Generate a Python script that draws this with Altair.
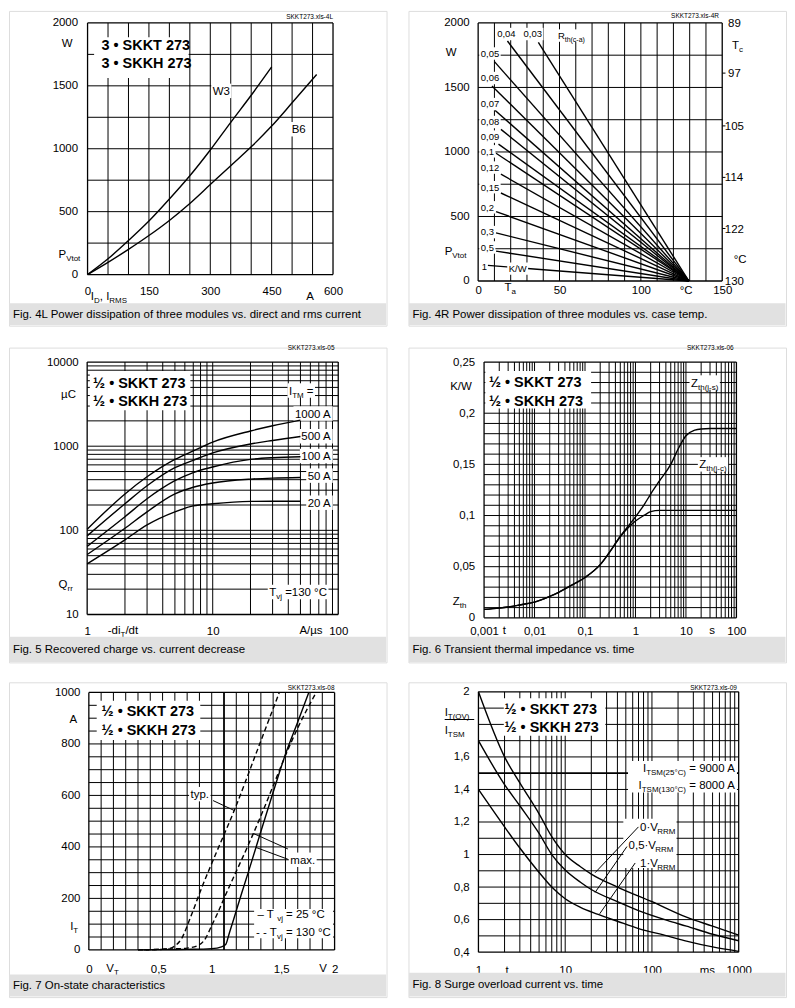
import math
import re
import altair as alt
import pandas as pd

FONT = "Liberation Sans"
W, H = 379, 316
KX = W / 383.0
TS = 11.5
SUBS = 8.0
INK = "black"
GRID_C = "#000000"
CAP_FILL = "#e1e1e1"
LABEL_EXPR = "replace(toString(datum.value), '.', ',')"

# ---------------- Fig. 4L ----------------
F4L_XGRID = list(range(0, 601, 50))
F4L_YGRID = list(range(0, 2001, 250))
F4L_XTICKS = [0, 150, 300, 450, 600]
F4L_YTICKS = [0, 500, 1000, 1500, 2000]
W3_I = [0, 50, 100, 150, 200, 250, 300, 350, 400, 450]
W3_P = [0, 125, 270, 425, 600, 785, 990, 1210, 1425, 1650]
B6_I = [0, 50, 100, 150, 200, 250, 300, 350, 400, 450, 500, 560]
B6_P = [0, 97, 200, 310, 430, 565, 715, 865, 1015, 1180, 1365, 1590]

# ---------------- Fig. 4R ----------------
F4R_XGRID = list(range(0, 151, 10))
F4R_YGRID = list(range(0, 2001, 250))
F4R_XTICKS = [0, 50, 100, 150]
F4R_YTICKS = [0, 500, 1000, 1500, 2000]
RTH = ["0,03", "0,04", "0,05", "0,06", "0,07", "0,08", "0,09", "0,1", "0,12", "0,15", "0,2", "0,3", "0,5", "1"]
RTH_TA0 = [37, 18, 10, 8.5, 10.5, 14, 12.5, 11, 14, 14, 11, 11, 11, 6]
RTH_P0 = [1850, 1860, 1700, 1512, 1321, 1175, 1061, 990, 828, 682, 538, 373, 232, 121]
RTH_TA1 = 129.5
RTH_P1 = 0
RTH_LX = [27.9, 11.7, 1.6, 1.6, 1.6, 1.6, 1.6, 1.6, 1.6, 1.6, 1.6, 1.6, 1.6, 2.2]
RTH_LY = [1914, 1914, 1763, 1573, 1371, 1232, 1119, 1005, 879, 727, 571, 379, 260, 109]
TC_LABELS = ["89", "97", "105", "114", "122", "130"]
TC_POS = [2000, 1611, 1202, 803, 407, 0]
TC_TICKS = [1611, 1202, 803, 407]

# ---------------- Fig. 5 ----------------
F5_XGRID = [m * 10 ** d for d in range(0, 2) for m in range(1, 10)] + [100]
F5_YGRID = [m * 10 ** d for d in range(1, 4) for m in range(1, 10)] + [10000]
F5_XTICKS = [1, 10, 100]
F5_YTICKS = [10, 100, 1000, 10000]
F5_X = [1, 2, 3, 5, 7, 10, 20, 30, 50]
Q_1000 = [103, 271, 433, 696, 880, 1120, 1517, 1750, 2040]
Q_500 = [86, 207, 339, 556, 680, 832, 1063, 1170, 1303]
Q_100 = [64.5, 145, 237, 389, 486, 566, 697, 730, 748]
Q_50 = [51.6, 106, 166, 271, 325, 365, 406, 418, 425]
Q_20 = [40, 77, 116, 166, 195, 207, 221, 222, 222]
ITM_LABELS = ["1000 A", "500 A", "100 A", "50 A", "20 A"]
ITM_Y = [2450, 1310, 764, 447, 213]

# ---------------- Fig. 6 ----------------
F6_XGRID = [m * 10.0 ** d for d in range(-3, 2) for m in range(1, 10)] + [100]
F6_YGRID = [round(i * 0.01, 2) for i in range(26)]
F6_XTICKS = [0.001, 0.01, 0.1, 1, 10, 100]
F6_YTICKS = [0, 0.05, 0.1, 0.15, 0.2, 0.25]
ZJS_T = [0.001, 0.002, 0.003, 0.005, 0.01, 0.02, 0.03, 0.05, 0.1, 0.2, 0.3, 0.5, 0.7, 1, 1.5, 2, 3, 5, 7, 10, 15, 20, 30, 50, 100]
ZJS = [0.0083, 0.0095, 0.0106, 0.0125, 0.0154, 0.021, 0.025, 0.031, 0.0394, 0.052, 0.0635, 0.0795, 0.089, 0.0987, 0.111, 0.121, 0.134, 0.150, 0.165, 0.178, 0.1835, 0.1846, 0.185, 0.185, 0.185]
ZJC_T = [0.001, 0.002, 0.003, 0.005, 0.01, 0.02, 0.03, 0.05, 0.1, 0.2, 0.3, 0.5, 0.7, 1, 1.5, 2, 3, 5, 10, 100]
ZJC = [0.0083, 0.0095, 0.0106, 0.0125, 0.0154, 0.021, 0.025, 0.031, 0.0394, 0.052, 0.0635, 0.0795, 0.0875, 0.0946, 0.1003, 0.1038, 0.105, 0.105, 0.105, 0.105]

# ---------------- Fig. 7 ----------------
F7_XGRID = [round(i * 0.1, 1) for i in range(21)]
F7_YGRID = list(range(0, 1001, 50))
F7_XTICKS = [0, 0.5, 1, 1.5, 2]
F7_YTICKS = [0, 200, 400, 600, 800, 1000]
MAX25_V = [0.4, 0.6, 0.8, 1.0, 1.08, 1.115, 1.14, 1.18, 1.25, 1.3, 1.4, 1.5, 1.6, 1.7, 1.79]
MAX25_I = [0, 1, 2, 5, 12, 22, 60, 121, 230, 305, 460, 612, 760, 885, 1000]
MAX130_V = [0.45, 0.6, 0.7, 0.8, 0.9, 0.95, 1.0, 1.05, 1.1, 1.2, 1.3, 1.4, 1.5, 1.6, 1.7, 1.85]
MAX130_I = [0, 2, 4, 7, 20, 45, 95, 145, 200, 305, 410, 520, 637, 755, 862, 1000]
TYP130_V = [0.4, 0.55, 0.62, 0.66, 0.7, 0.756, 0.823, 0.924, 1.036, 1.183, 1.357, 1.55]
TYP130_I = [0, 2, 4, 6, 15, 45, 121, 248, 376, 541, 758, 1000]

# ---------------- Fig. 8 ----------------
F8_XGRID = [m * 10 ** d for d in range(0, 3) for m in range(1, 10)] + [1000]
F8_YGRID = [round(0.4 + i * 0.1, 1) for i in range(17)]
F8_XTICKS = [1, 10, 100, 1000]
F8_YTICKS = [0.4, 0.6, 0.8, 1, 1.2, 1.4, 1.6, 2]
V0_T = [1, 2, 3, 5, 7, 10, 15, 20, 40, 100, 250, 500, 1000]
V0_R = [2.0, 1.6, 1.44, 1.25, 1.11, 1.0, 0.925, 0.88, 0.80, 0.71, 0.615, 0.56, 0.505]
V05_T = [1, 2, 3, 5, 7, 10, 15, 20, 40, 70, 150, 250, 500, 1000]
V05_R = [1.7, 1.43, 1.30, 1.13, 1.0, 0.905, 0.83, 0.785, 0.71, 0.655, 0.595, 0.56, 0.51, 0.47]
V1_T = [1, 2, 3, 5, 7, 10, 15, 24, 40, 70, 150, 250, 500, 1000]
V1_R = [1.4, 1.17, 1.04, 0.89, 0.80, 0.728, 0.675, 0.632, 0.59, 0.545, 0.50, 0.468, 0.432, 0.405]

# ---------------- helpers ----------------
AW = {' ': 278, '(': 333, ')': 333, ',': 278, '-': 333, '.': 278, '/': 278, '=': 584,
      'A': 667, 'B': 667, 'C': 722, 'D': 722, 'E': 667, 'F': 611, 'H': 722, 'I': 278, 'K': 667,
      'L': 556, 'M': 833, 'O': 778, 'P': 667, 'Q': 778, 'R': 722, 'S': 667, 'T': 611, 'V': 667,
      'W': 944, 'Z': 611, 'a': 556, 'c': 500, 'd': 556, 'e': 556, 'f': 278, 'g': 556, 'h': 556,
      'i': 222, 'j': 222, 'l': 222, 'm': 833, 'n': 556, 'o': 556, 'p': 556, 'r': 333, 's': 500,
      't': 278, 'u': 556, 'v': 500, 'w': 722, 'x': 500, 'y': 500, '°': 400, 'µ': 556, '·': 278,
      '•': 350, '½': 834, '–': 556}


def tw(s, size):
    return sum(AW.get(c, 556) for c in s) * size / 1000.0


def parse(s):
    out = []
    for part in re.split(r'(_\{[^}]*\})', s):
        if not part:
            continue
        if part.startswith('_{'):
            out.append((part[2:-1], True))
        else:
            out.append((part, False))
    return out


class Panel:
    def __init__(self, xd, xr, yd, yr, ref_h, xlog=False, ylog=False):
        ky = H / float(ref_h)
        self.ky = ky
        self.xd, self.yd = xd, yd
        self.xr = [xr[0] * KX, xr[1] * KX]
        self.yr = [yr[0] * ky, yr[1] * ky]
        self.xlog, self.ylog = xlog, ylog
        self.texts, self.bolds, self.boxes, self.top_boxes, self.rules = [], [], [], [], []

    @staticmethod
    def _f(v, d, r, lg):
        if lg:
            t = (math.log10(v) - math.log10(d[0])) / (math.log10(d[1]) - math.log10(d[0]))
        else:
            t = (v - d[0]) / float(d[1] - d[0])
        return r[0] + t * (r[1] - r[0])

    @staticmethod
    def _i(p, d, r, lg):
        t = (p - r[0]) / (r[1] - r[0])
        if lg:
            return 10 ** (math.log10(d[0]) + t * (math.log10(d[1]) - math.log10(d[0])))
        return d[0] + t * (d[1] - d[0])

    def px(self, v):
        return self._f(v, self.xd, self.xr, self.xlog)

    def py(self, v):
        return self._f(v, self.yd, self.yr, self.ylog)

    def dx(self, p):
        return self._i(p, self.xd, self.xr, self.xlog)

    def dy(self, p):
        return self._i(p, self.yd, self.yr, self.ylog)

    def label(self, x, y, s, align='left', size=TS, sub=SUBS, bold=False, box=False, top=False):
        segs = parse(s)
        k = 1.05 if bold else 1.0
        widths = [tw(t, sub if isub else size) * k for t, isub in segs]
        total = sum(widths)
        x0 = self.px(x) - {'left': 0.0, 'center': total / 2.0, 'right': total}[align]
        yc = self.py(y)
        yb = yc + 0.358 * size
        acc = x0
        target = self.bolds if bold else self.texts
        for (t, isub), w in zip(segs, widths):
            fs = sub if isub else size
            lead = len(t) - len(t.lstrip(' '))
            txt = t.strip()
            if txt:
                target.append({'x': self.dx(acc + tw(' ' * lead, fs) * k),
                               'y': self.dy(yb + (3.0 if isub else 0.0)),
                               't': txt, 's': fs})
            acc += w
        if box:
            b = {'x1': self.dx(x0 - 1.5), 'x2': self.dx(x0 + total + 1.5),
                 'y1': self.dy(yc + 0.5 * size + 1.5), 'y2': self.dy(yc - 0.5 * size - 1.5)}
            (self.top_boxes if top else self.boxes).append(b)

    def box(self, x1, x2, y1, y2):
        self.boxes.append({'x1': x1, 'x2': x2, 'y1': y1, 'y2': y2})

    def rule(self, x1, y1, x2, y2):
        self.rules.append({'x1': x1, 'y1': y1, 'x2': x2, 'y2': y2})


def curves_df(series):
    rows = []
    for sid, (xs, ys) in enumerate(series):
        for k, (a, b) in enumerate(zip(xs, ys)):
            rows.append({'x': a, 'y': b, 'id': sid, 'k': k})
    return pd.DataFrame(rows)


def build(p, xgrid, ygrid, xticks, yticks, xpad, ypad, solid, dashed, caption, cap_top_ref,
          interp='monotone', thick_x=(), thick_y=(), xalign=None):
    if p.xlog:
        sx = alt.Scale(type='log', domain=p.xd, range=p.xr, nice=False)
    else:
        sx = alt.Scale(type='linear', domain=p.xd, range=p.xr, nice=False, zero=False)
    if p.ylog:
        sy = alt.Scale(type='log', domain=p.yd, range=p.yr, nice=False)
    else:
        sy = alt.Scale(type='linear', domain=p.yd, range=p.yr, nice=False, zero=False)
    common = dict(title=None, grid=False, ticks=False, tickSize=0, domain=False, labelFont=FONT,
                  labelFontSize=TS, labelColor=INK, labelExpr=LABEL_EXPR, labelFlush=False,
                  labelOverlap=False, labelBound=False)
    xkw = dict(common)
    if xalign is not None:
        xkw['labelAlign'] = xalign
    ax = alt.Axis(values=xticks, orient='bottom', offset=-(H - p.yr[0]), labelPadding=xpad, **xkw)
    ay = alt.Axis(values=yticks, orient='left', offset=-p.xr[0], labelPadding=ypad, **common)

    def X(f):
        return alt.X(f, type='quantitative', scale=sx, axis=ax)

    def Y(f):
        return alt.Y(f, type='quantitative', scale=sy, axis=ay)

    def wid(v, g, thick):
        if v == g[0] or v == g[-1]:
            return 1.3
        if v in thick:
            return 1.8
        return 1.0

    vg = pd.DataFrame({'v': xgrid, 'lo': p.yd[0], 'hi': p.yd[1],
                       'w': [wid(v, xgrid, thick_x) for v in xgrid]})
    hg = pd.DataFrame({'v': ygrid, 'lo': p.xd[0], 'hi': p.xd[1],
                       'w': [wid(v, ygrid, thick_y) for v in ygrid]})
    layers = [
        alt.Chart(vg).mark_rule(color=GRID_C).encode(
            x=X('v'), y=Y('lo'), y2=alt.Y2('hi'), strokeWidth=alt.StrokeWidth('w:Q', scale=None)),
        alt.Chart(hg).mark_rule(color=GRID_C).encode(
            y=Y('v'), x=X('lo'), x2=alt.X2('hi'), strokeWidth=alt.StrokeWidth('w:Q', scale=None)),
    ]
    if p.boxes:
        layers.append(alt.Chart(pd.DataFrame(p.boxes)).mark_rect(fill='white').encode(
            x=X('x1'), x2=alt.X2('x2'), y=Y('y1'), y2=alt.Y2('y2')))
    if solid:
        layers.append(alt.Chart(curves_df(solid)).mark_line(
            color=INK, strokeWidth=1.4, interpolate=interp).encode(
            x=X('x'), y=Y('y'), detail=alt.Detail('id:N'), order=alt.Order('k:Q')))
    if dashed:
        layers.append(alt.Chart(curves_df(dashed)).mark_line(
            color=INK, strokeWidth=1.4, interpolate=interp, strokeDash=[5, 3]).encode(
            x=X('x'), y=Y('y'), detail=alt.Detail('id:N'), order=alt.Order('k:Q')))
    if p.rules:
        layers.append(alt.Chart(pd.DataFrame(p.rules)).mark_rule(color=INK, strokeWidth=1.0).encode(
            x=X('x1'), y=Y('y1'), x2=alt.X2('x2'), y2=alt.Y2('y2')))
    if p.top_boxes:
        layers.append(alt.Chart(pd.DataFrame(p.top_boxes)).mark_rect(fill='white').encode(
            x=X('x1'), x2=alt.X2('x2'), y=Y('y1'), y2=alt.Y2('y2')))
    if p.texts:
        layers.append(alt.Chart(pd.DataFrame(p.texts)).mark_text(
            align='left', baseline='alphabetic', font=FONT, color=INK).encode(
            x=X('x'), y=Y('y'), text='t:N', size=alt.Size('s:Q', scale=None)))
    if p.bolds:
        layers.append(alt.Chart(pd.DataFrame(p.bolds)).mark_text(
            align='left', baseline='alphabetic', font=FONT, color=INK, fontWeight='bold').encode(
            x=X('x'), y=Y('y'), text='t:N', size=alt.Size('s:Q', scale=None)))
    cap_top = cap_top_ref * p.ky
    capdf = pd.DataFrame({'c': [caption]})
    layers.append(alt.Chart(capdf).mark_rect(fill=CAP_FILL).encode(
        x=alt.value(0.5), x2=alt.value(W - 0.5), y=alt.value(cap_top), y2=alt.value(H - 0.5)))
    layers.append(alt.Chart(capdf).mark_text(
        align='left', baseline='middle', font=FONT, fontSize=TS, color=INK).encode(
        x=alt.value(4), y=alt.value((cap_top + H) / 2.0 + 0.5), text='c:N'))
    return alt.layer(*layers).properties(width=W, height=H)


# ================= Fig. 4L =================
p1 = Panel([0, 600], [79.7, 328.7], [0, 2000], [269.7, 12.3], 322)
p1.box(16, 247, 1562, 1886)
p1.label(34, 1826, "3 • SKKT 273", size=14.5, bold=True)
p1.label(34, 1684, "3 • SKKH 273", size=14.5, bold=True)
p1.label(327, 1460, "W3", align='center', box=True)
p1.label(516, 1155, "B6", align='center', box=True)
p1.label(-50, 1843, "W", align='center')
p1.label(-71, 163, "P_{Vtot}")
p1.label(8, -170, "I_{D}, I_{RMS}")
p1.label(544, -170, "A", align='center')
p1.label(600, 2047, "SKKT273.xls-4L", align='right', size=6.5)
c1 = build(p1, F4L_XGRID, F4L_YGRID, F4L_XTICKS, F4L_YTICKS, 11.5, 10,
           [(W3_I, W3_P), (B6_I, B6_P)], [],
           "Fig. 4L Power dissipation of three modules vs. direct and rms current", 299)

# ================= Fig. 4R =================
p2 = Panel([0, 150], [70.7, 318.3], [0, 2000], [276.3, 12.3], 322)
for name, lx, ly in zip(RTH, RTH_LX, RTH_LY):
    p2.label(lx, ly, name, size=9.5, box=True)
p2.label(49, 1902, "R_{th(c-a)}", size=9.5, sub=7, box=True)
p2.label(18.8, 96, "K/W", size=9.5, box=True, top=True)
p2.label(-16.6, 1775, "W", align='center')
p2.label(-20.6, 235, "P_{Vtot}")
p2.label(16.2, -45, "T_{a}")
p2.label(127.8, -68, "°C", align='center')
for txt, yv in zip(TC_LABELS, TC_POS):
    p2.label(157.5, yv, txt, align='center')
p2.label(156, 1826, "T_{c}")
p2.label(161, 172, "°C", align='center')
for yv in TC_TICKS:
    p2.rule(150, yv, 152, yv)
p2.label(148, 2053, "SKKT273.xls-4R", align='right', size=6.5)
rth_lines = [([t0, RTH_TA1], [p0, RTH_P1]) for t0, p0 in zip(RTH_TA0, RTH_P0)]
c2 = build(p2, F4R_XGRID, F4R_YGRID, F4R_XTICKS, F4R_YTICKS, 4, 9,
           rth_lines, [], "Fig. 4R Power dissipation of three modules vs. case temp.", 299,
           interp='linear')

# ================= Fig. 5 =================
p3 = Panel([1, 100], [79.3, 334.0], [10, 10000], [271.3, 14.7], 320, xlog=True, ylog=True)
p3.box(1.05, 6.64, 2680, 7850)
p3.label(1.115, 5740, "½ • SKKT 273", size=14.5, bold=True)
p3.label(1.115, 3500, "½ • SKKH 273", size=14.5, bold=True)
p3.label(40.5, 4590, "I_{TM} =", box=True)
for txt, yv in zip(ITM_LABELS, ITM_Y):
    p3.label(88, yv, txt, align='right', box=True)
p3.label(28.2, 18.5, "T_{vj} =130 °C", box=True)
p3.label(0.709, 4200, "µC", align='center')
p3.label(0.592, 23, "Q_{rr}")
p3.label(1.46, 6.56, "-di_{T}/dt")
p3.label(49.1, 6.56, "A/µs")
p3.label(93.5, 14730, "SKKT273.xls-05", align='right', size=6.5)
c3 = build(p3, F5_XGRID, F5_YGRID, F5_XTICKS, F5_YTICKS, 10.7, 9,
           [(F5_X, Q_1000), (F5_X, Q_500), (F5_X, Q_100), (F5_X, Q_50), (F5_X, Q_20)], [],
           "Fig. 5 Recovered charge vs. current decrease", 294)

# ================= Fig. 6 =================
p4 = Panel([0.001, 100], [76.7, 332.7], [0, 0.25], [274.7, 14.7], 320, xlog=True)
p4.box(0.00106, 0.132, 0.2045, 0.2413)
p4.label(0.00125, 0.2302, "½ • SKKT 273", size=14.5, bold=True)
p4.label(0.00125, 0.2125, "½ • SKKH 273", size=14.5, bold=True)
p4.label(12.6, 0.230, "Z_{th(j-s)}", box=True)
p4.label(18.4, 0.150, "Z_{th(j-c)}", box=True)
p4.label(0.000349, 0.227, "K/W", align='center')
p4.label(0.00024, 0.017, "Z_{th}")
p4.label(0.00253, -0.0118, "t", align='center')
p4.label(33, -0.0118, "s", align='center')
p4.label(88.5, 0.2638, "SKKT273.xls-06", align='right', size=6.5)
c4 = build(p4, F6_XGRID, F6_YGRID, F6_XTICKS, F6_YTICKS, 7.3, 9.4,
           [(ZJS_T, ZJS), (ZJC_T, ZJC)], [],
           "Fig. 6 Transient thermal impedance vs. time", 294)

# ================= Fig. 7 =================
p5 = Panel([0, 2], [81, 330.3], [0, 1000], [272, 10.3], 320)
p5.box(0.064, 0.907, 815, 968)
p5.label(0.104, 930, "½ • SKKT 273", size=14.5, bold=True)
p5.label(0.104, 856, "½ • SKKH 273", size=14.5, bold=True)
p5.label(0.903, 605, "typ.", align='center', box=True)
p5.rule(1.011, 580, 1.185, 541)
p5.label(1.64, 350, "max.", box=True)
p5.rule(1.62, 392, 1.34, 452)
p5.rule(1.62, 352, 1.36, 398)
p5.box(1.345, 1.987, 45, 159)
p5.label(1.372, 141, "–  T_{vj} =  25 °C")
p5.label(1.36, 70, "- - T_{vj} = 130 °C")
p5.label(-0.126, 898, "A", align='center')
p5.label(-0.152, 95, "I_{T}")
p5.label(0.142, -70, "V_{T}")
p5.label(1.907, -70, "V", align='center')
p5.label(2.0, 1019, "SKKT273.xls-08", align='right', size=6.5)
c5 = build(p5, F7_XGRID, F7_YGRID, F7_XTICKS, F7_YTICKS, 13.3, 9,
           [(MAX25_V, MAX25_I)], [(TYP130_V, TYP130_I), (MAX130_V, MAX130_I)],
           "Fig. 7 On-state characteristics", 297, thick_x=(1.1,),
           xalign={"condition": {"test": "datum.value == 0.5 || datum.value == 1.5", "value": "left"},
                   "value": "center"})

# ================= Fig. 8 =================
p6 = Panel([1, 1000], [71, 335], [0.4, 2], [274.3, 9.7], 320, xlog=True)
p6.box(1.96, 29, 1.73, 1.96)
p6.label(2.0, 1.895, "½ • SKKT 273", size=14.5, bold=True)
p6.label(2.0, 1.785, "½ • SKKH 273", size=14.5, bold=True)
p6.box(53, 955, 1.381, 1.575)
p6.label(918, 1.533, "I_{TSM(25°C)} = 9000 A", align='right')
p6.label(918, 1.428, "I_{TSM(130°C)} = 8000 A", align='right')
p6.box(46.8, 192, 0.918, 1.22)
p6.label(73, 1.17, "0·V_{RRM}")
p6.label(53.8, 1.059, "0,5·V_{RRM}")
p6.label(73, 0.948, "1·V_{RRM}")
p6.rule(69.9, 1.17, 22.1, 0.888)
p6.rule(51.5, 1.049, 22.1, 0.767)
p6.rule(64.1, 0.948, 25, 0.636)
p6.label(0.408, 1.875, "I_{T(OV)}")
p6.rule(0.408, 1.83, 0.894, 1.83)
p6.label(0.408, 1.764, "I_{TSM}")
p6.label(2.14, 0.293, "t", align='center')
p6.label(436, 0.293, "ms", align='center')
p6.label(955, 2.027, "SKKT273.xls-09", align='right', size=6.5)
c6 = build(p6, F8_XGRID, F8_YGRID, F8_XTICKS, F8_YTICKS, 12.7, 9.3,
           [(V0_T, V0_R), (V05_T, V05_R), (V1_T, V1_R)], [],
           "Fig. 8 Surge overload current vs. time", 295.3, thick_y=(1.5,))

row1 = alt.hconcat(c1, c2, spacing=20)
row2 = alt.hconcat(c3, c4, spacing=20)
row3 = alt.hconcat(c5, c6, spacing=20)
chart = alt.vconcat(row1, row2, row3, spacing=18, padding=0).configure_view(
    stroke='black', strokeWidth=1).configure(font=FONT, background='white')

chart.save("out.html", embed_options={"renderer": "svg", "actions": False})
